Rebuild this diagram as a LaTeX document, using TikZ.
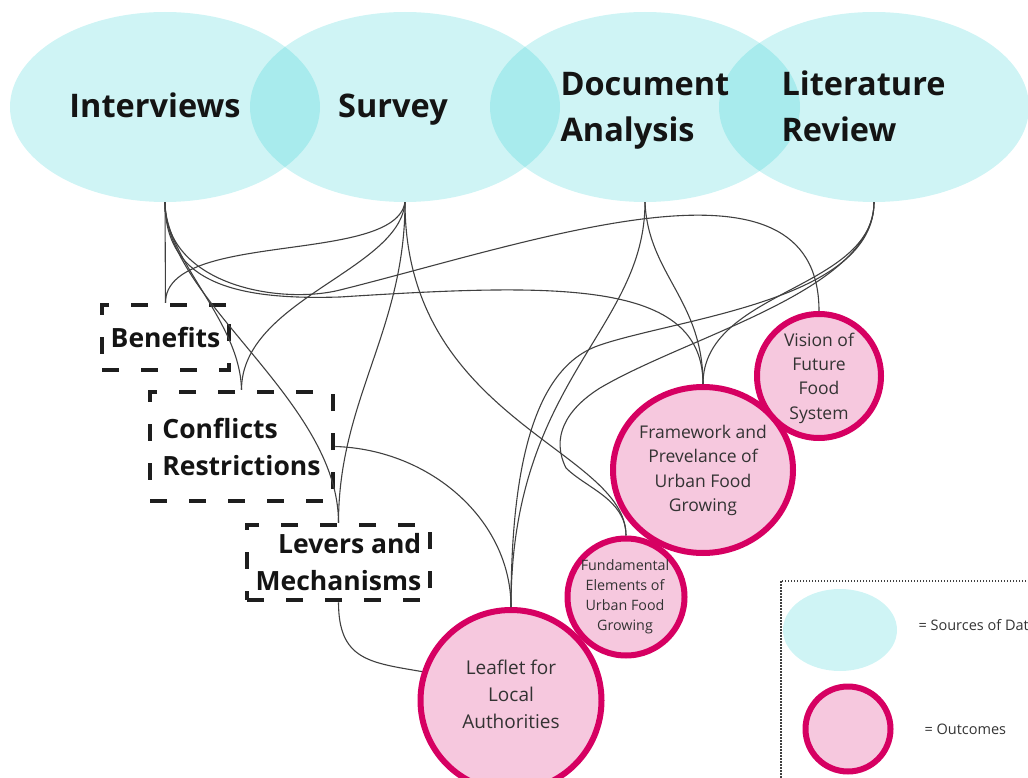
\documentclass[tikz,border=0pt]{standalone}
\usepackage{fontspec}
\setmainfont{Open Sans}
\usetikzlibrary{shapes.geometric}

\definecolor{srcblue}{RGB}{27,203,207}
\definecolor{outpink}{RGB}{246,200,222}
\definecolor{outrim}{RGB}{214,0,98}
\definecolor{linkgray}{RGB}{64,64,64}
\definecolor{boxgray}{RGB}{30,30,30}

\begin{document}
\begin{tikzpicture}[x=1pt, y=-1pt,
    source/.style={ellipse, fill=srcblue, fill opacity=0.21, inner sep=0pt},
    srclabel/.style={font=\fontsize{32.5}{46}\selectfont\bfseries, text=black!92},
    theme/.style={draw=boxgray, line width=4.5pt, dash pattern=on 17pt off 22pt, inner sep=0pt,
                  font=\fontsize{26.5}{37}\selectfont\bfseries, text=black!92},
    outcome/.style={circle, fill=outpink, draw=outrim, line width=6pt, inner sep=0pt},
    outlabel/.style={align=center, text=black!80},
    link/.style={draw=linkgray, line width=1.1pt}]

      \useasboundingbox (0,0) rectangle (1028,778);

      \node[source, minimum width=310pt, minimum height=190pt] (interviews) at (165,107) {};
      \node[source, minimum width=310pt, minimum height=190pt] (survey)     at (405,107) {};
      \node[source, minimum width=310pt, minimum height=190pt] (document)   at (645,107) {};
      \node[source, minimum width=310pt, minimum height=190pt] (literature) at (874,107) {};
      \node[srclabel, anchor=base] (interviewstxt) at (155,118) {Interviews};
      \node[srclabel, anchor=base] (surveytxt)     at (393,118) {Survey};
      \node[srclabel, anchor=west, align=left] (documenttxt)   at (557,111) {Document\\Analysis};
      \node[srclabel, anchor=west, align=left] (literaturetxt) at (778,106) {Literature\\Review};

      \node[theme, minimum width=127pt, minimum height=65pt] (benefits) at (165.5,337.5) {Benefits};
      \node[theme, minimum width=183pt, minimum height=109pt, align=left] (conflicts) at (241.5,446.5) {Conflicts\\Restrictions};
      \node[theme, minimum width=183pt, minimum height=75pt, align=right] (levers) at (338.5,562.5) {Levers and\\Mechanisms};

      \node[outcome, ellipse, minimum width=180pt, minimum height=166pt] (framework) at (703,470) {};
      \node[outcome, minimum size=124pt] (vision)      at (819,376) {};
      \node[outcome, minimum size=117pt] (fundamental) at (626,597) {};
      \node[outcome, minimum size=181pt] (leaflet)     at (511,700.5) {};
      \node[outlabel, font=\fontsize{17.5}{24.3}\selectfont] (visiontxt)      at (819,378)   {Vision of\\Future\\Food\\System};
      \node[outlabel, font=\fontsize{17.5}{24.3}\selectfont] (frameworktxt)   at (703,470.5) {Framework and\\Prevelance of\\Urban Food\\Growing};
      \node[outlabel, font=\fontsize{14.3}{20}\selectfont]   (fundamentaltxt) at (625,597)   {Fundamental\\Elements of\\Urban Food\\Growing};
      \node[outlabel, font=\fontsize{19}{27}\selectfont]     (leaflettxt)     at (511,694)   {Leaflet for\\Local\\Authorities};

      \draw[link] (interviews.south) -- (benefits.north);
      \draw[link] (interviews.south) .. controls +(0,58) and +(-1.5,-70) .. (conflicts.north);
      \draw[link] (interviews.south) .. controls +(0,98) and +(0,-123) .. (levers.north);
      \draw[link] (interviews.south) .. controls +(0,83) and +(-60,15) .. (340,290)
                                     .. controls +(200,-50) and +(0,-171) .. (vision.north);
      \draw[link] (interviews.south) .. controls +(0,83) and +(-100,3) .. (340,297)
                                     .. controls +(220,-14) and +(0,-104) .. (framework.north);

      \draw[link] (survey.south) .. controls +(-10,63) and +(0,-73) .. (benefits.north);
      \draw[link] (survey.south) .. controls +(-5,68) and +(0,-90) .. (conflicts.north);
      \draw[link] (survey.south) .. controls +(0,128) and +(0,-123) .. (levers.north);
      \draw[link] (survey.south) .. controls +(0,218) and +(0,-86) .. (fundamental.north);

      \draw[link] (document.south) .. controls +(0,128) and +(0,-227) .. (leaflet.north);
      \draw[link] (document.south) .. controls +(3,72) and +(0,-84) .. (framework.north);

      \draw[link] (literature.south) .. controls +(0,98) and +(80,-27) .. (600,345)
                                     .. controls +(-60,20) and +(0,-157) .. (leaflet.north);
      \draw[link] (literature.south) .. controls +(0,88) and +(0,-94) .. (framework.north);
      \draw[link] (literature.south) .. controls +(0,88) and +(90,-53) .. (600,388)
                                     .. controls +(-35,22) and +(-15,-30) .. (566,468)
                                     .. controls +(20,20) and +(0,-36) .. (fundamental.north);

      \draw[link] (conflicts.east) .. controls +(95,3) and +(0,-87) .. (leaflet.north);
      \draw[link] (levers.south) .. controls +(0,58) and +(-52,-9) .. (leaflet.162);

      \draw[linkgray, line width=1.5pt, dash pattern=on 1.5pt off 1.5pt] (781,581) rectangle (1040,800);
      \node[source, minimum width=114pt, minimum height=82pt] (legsource) at (840,630) {};
      \node[outcome, minimum size=85pt] (legoutcome) at (848,729) {};
      \node[anchor=west, font=\fontsize{14.5}{17}\selectfont, text=black!80] (legsourcetxt)  at (915,625) {= Sources of Data};
      \node[anchor=west, font=\fontsize{14.5}{17}\selectfont, text=black!80] (legoutcometxt) at (921,729) {= Outcomes};

    \end{tikzpicture}
\end{document}
